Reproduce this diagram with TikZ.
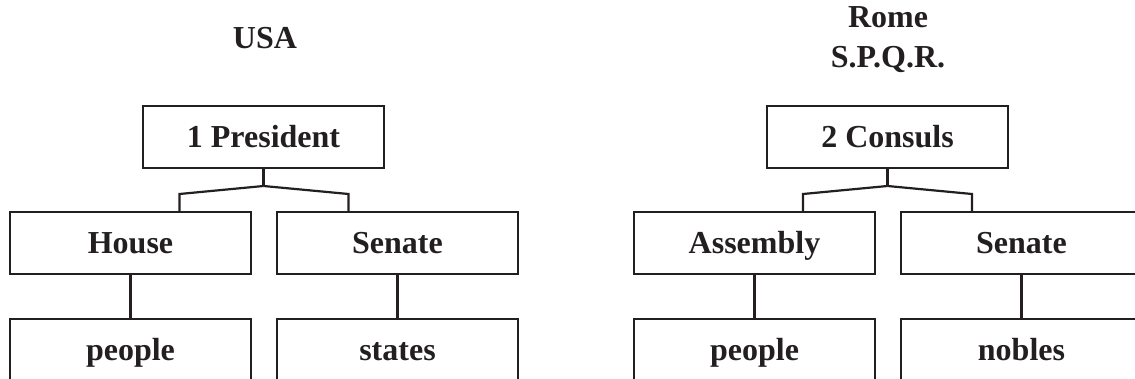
\documentclass[tikz,border=0pt]{standalone}
\usepackage{fontspec}
\setmainfont{Liberation Serif}
\definecolor{ink}{HTML}{231F20}
\begin{document}
\begin{tikzpicture}[x=1pt,y=-1pt,
  box/.style={draw=ink,line width=2.2pt,minimum width=241pt,minimum height=62pt,
    inner sep=0pt,text height=21.5pt,text depth=0pt,text=ink,
    font=\fontsize{32}{38}\selectfont\bfseries},
  ttl/.style={anchor=base,inner sep=0pt,text=ink,font=\fontsize{32}{38}\selectfont\bfseries},
  conn/.style={draw=ink,line width=2.2pt}]
\useasboundingbox (0,0) rectangle (1135,379);
\clip (0,0) rectangle (1135,379);
% titles
\node[ttl] (usa) at (265,48.3) {USA};
\node[ttl] (rome) at (888,28) {Rome};
\node[ttl] (spqr) at (888,67.7) {S.P.Q.R.};
% USA
\node[box] (pres) at (263.5,137) {1 President};
\node[box] (house) at (130.5,243) {House};
\node[box] (senL) at (397.5,243) {Senate};
\node[box] (peopleL) at (130.5,350) {people};
\node[box] (states) at (397.5,350) {states};
% Rome
\node[box] (cons) at (887.5,137) {2 Consuls};
\node[box] (assem) at (754.5,243) {Assembly};
\node[box] (senR) at (1021.5,243) {Senate};
\node[box] (peopleR) at (754.5,350) {people};
\node[box] (nobles) at (1021.5,350) {nobles};
% connectors USA
\coordinate (jL) at (263.5,186);
\coordinate (aL) at (179.5,194);
\coordinate (bL) at (348.5,194);
\draw[conn] (pres.south) -- (jL);
\draw[conn] (jL) -- (aL) -- (aL |- house.north);
\draw[conn] (jL) -- (bL) -- (bL |- senL.north);
\draw[conn] (house.south) -- (peopleL.north);
\draw[conn] (senL.south) -- (states.north);
% connectors Rome
\coordinate (jR) at (887.5,186);
\coordinate (aR) at (803,194);
\coordinate (bR) at (972,194);
\draw[conn] (cons.south) -- (jR);
\draw[conn] (jR) -- (aR) -- (aR |- assem.north);
\draw[conn] (jR) -- (bR) -- (bR |- senR.north);
\draw[conn] (assem.south) -- (peopleR.north);
\draw[conn] (senR.south) -- (nobles.north);
\end{tikzpicture}
\end{document}
